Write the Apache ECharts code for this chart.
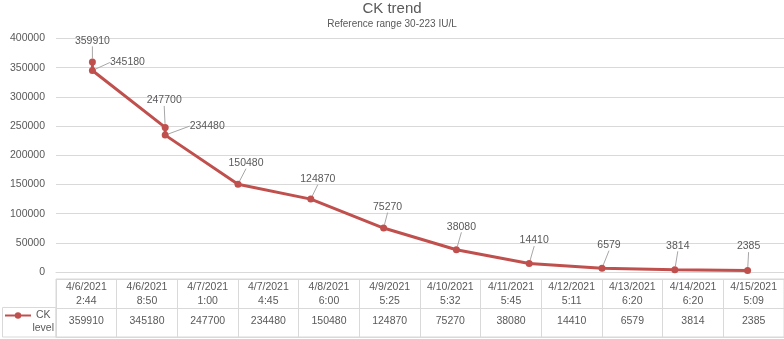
<!DOCTYPE html>
<html><head><meta charset="utf-8">
<script src="https://cdn.jsdelivr.net/npm/echarts@6/dist/echarts.min.js"></script>
<style>html,body{margin:0;padding:0;background:#fff}#c{width:784px;height:339px}</style>
</head><body><div id="c"></div>
<script>
const timestamps = ['4/6/2021 2:44','4/6/2021 8:50','4/7/2021 1:00','4/7/2021 4:45','4/8/2021 6:00','4/9/2021 5:25','4/10/2021 5:32','4/11/2021 5:45','4/12/2021 5:11','4/13/2021 6:20','4/14/2021 6:20','4/15/2021 5:09'];
const ckValues = [359910,345180,247700,234480,150480,124870,75270,38080,14410,6579,3814,2385];
const seriesName = 'CK level';
const chartTitle = 'CK trend';
const chartSubtitle = 'Reference range 30-223 IU/L';

// label nudges (styling only)
const labelShift = [[0,-7],[35,6],[-1,-13],[42,5],[8,-7],[7,-6],[4,-7],[5,-9],[5,-9],[7,-9],[3,-10],[1,-10]];

const dayOf = ckValues.map((v,i)=>timestamps[i].split(' ')[0]);
const days = [...new Set(dayOf)];
const nameParts = seriesName.split(' ');
const txt = '#595959', grid = '#d9d9d9', red = '#C0504D';
const FF = 'Liberation Sans, Arial, sans-serif';

const chart = echarts.init(document.getElementById('c'));
chart.setOption({
  animation:false,
  textStyle:{fontFamily:FF},
  title:{text:chartTitle, subtext:chartSubtitle, left:'center', top:0, itemGap:3, padding:[1,0,0,0],
    textStyle:{color:txt, fontSize:15, fontWeight:'normal', fontFamily:FF},
    subtextStyle:{color:txt, fontSize:10, fontFamily:FF}},
  legend:{data:[seriesName], left:4, top:310, padding:0, itemWidth:26, itemHeight:8, itemGap:0,
    formatter:()=> nameParts[0],
    textStyle:{color:txt, fontSize:10.5, fontFamily:FF}, selectedMode:false},
  grid:[{left:56,right:0,top:38.5,bottom:67},
        {left:56,right:0,top:279,height:58, show:true, borderColor:grid, borderWidth:1}],
  xAxis:[
    {type:'category', gridIndex:0, data:days, boundaryGap:true,
      axisLine:{show:true, lineStyle:{color:grid}}, axisTick:{show:false}, axisLabel:{show:false}, splitLine:{show:false}},
    {type:'category', gridIndex:1, position:'top', data:timestamps,
      axisLine:{show:true, lineStyle:{color:grid}}, axisTick:{show:false},
      axisLabel:{inside:true, interval:0, margin:1, formatter:v=>v.replace(' ','\n'), color:txt, fontSize:10.5, lineHeight:14},
      splitLine:{show:true, interval:0, lineStyle:{color:grid}}},
    {type:'category', gridIndex:1, position:'bottom', data:ckValues.map(String),
      axisLine:{show:false}, axisTick:{show:false},
      axisLabel:{inside:true, interval:0, margin:10, color:txt, fontSize:10.5}, splitLine:{show:false}}
  ],
  yAxis:[
    {type:'value', gridIndex:0, min:0, max:400000, interval:50000,
      axisLabel:{color:txt, fontSize:10.5, margin:11, formatter:v=>String(v)}, axisLine:{show:false}, axisTick:{show:false},
      splitLine:{lineStyle:{color:grid}}},
    {type:'value', gridIndex:1, min:0, max:2, interval:1, axisLabel:{show:false}, axisLine:{show:false}, axisTick:{show:false},
      splitLine:{show:true, lineStyle:{color:grid}}}
  ],
  graphic:[
    {type:'rect', shape:{x:2.5, y:307.5, width:53.5, height:29.5}, style:{fill:'none', stroke:grid, lineWidth:1}, silent:true},
    {type:'text', x:54, y:328, style:{text:nameParts[1], fill:txt, font:'10.5px '+FF, textAlign:'right', textVerticalAlign:'middle'}, silent:true}
  ],
  series:[{
    name:seriesName, type:'line', xAxisIndex:0, yAxisIndex:0,
    data:ckValues.map((v,i)=>[dayOf[i], v]),
    color:red, lineStyle:{width:3, color:red}, itemStyle:{color:red},
    symbol:'circle', symbolSize:7,
    label:{show:true, position:'top', color:txt, fontSize:10.5},
    labelLine:{show:true, lineStyle:{color:'#a6a6a6', width:1}},
    labelLayout:p=>({dx:labelShift[p.dataIndex][0], dy:labelShift[p.dataIndex][1]})
  }]
});
</script></body></html>
